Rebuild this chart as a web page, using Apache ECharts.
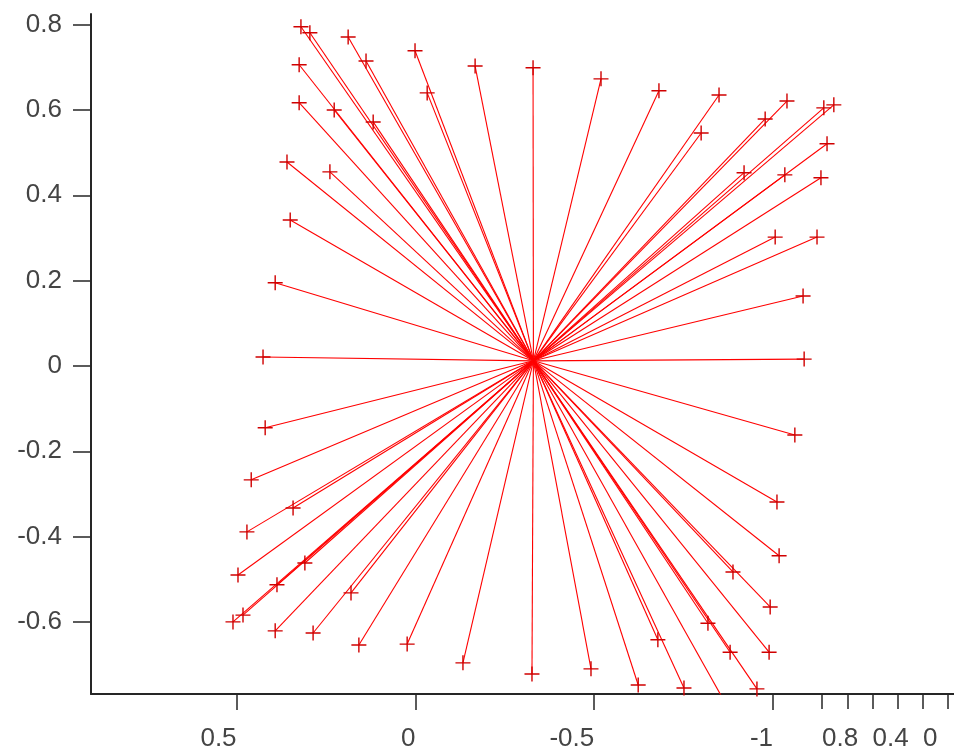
<!DOCTYPE html>
<html>
<head>
<meta charset="utf-8">
<script src="https://cdn.jsdelivr.net/npm/echarts@6/dist/echarts.min.js"></script>
<style>
  html, body { margin: 0; padding: 0; background: #fff; }
  #chart { width: 954px; height: 756px; }
</style>
</head>
<body>
<div id="chart"></div>
<script>
// common start point of all spokes
const center = [-0.33, 0.012];

// spoke end points (x reversed on screen)
const xEnd = [
  0.320, 0.295, 0.188, 0.001, 0.138, 0.325, -0.167, -0.033, 0.325, 0.227, 0.118,
  0.359, 0.239, 0.350, 0.392, 0.426,
  -0.329, -0.519, -0.681, -0.849, -1.039, -1.142, -1.170, -0.978, -0.799, -1.151,
  -0.919, -1.033, -1.134, -1.006, -1.123, -1.084, -1.087,
  0.420, 0.459, 0.342, 0.471, 0.309, 0.496, 0.387, 0.180, 0.482, 0.510, 0.392,
  0.286, 0.158, 0.023, -0.133,
  -0.326, -0.491, -0.623, -0.751, -0.857, -0.955, -0.678, -0.818, -0.880, -0.989,
  -0.992, -0.888, -1.017, -1.011, -1.061
];
const yEnd = [
  0.795, 0.781, 0.771, 0.739, 0.715, 0.706, 0.703, 0.640, 0.617, 0.600, 0.572,
  0.478, 0.455, 0.342, 0.195, 0.021,
  0.699, 0.673, 0.645, 0.635, 0.621, 0.605, 0.612, 0.579, 0.546, 0.521,
  0.453, 0.448, 0.441, 0.302, 0.302, 0.164, 0.016,
  -0.145, -0.267, -0.333, -0.389, -0.462, -0.490, -0.513, -0.532, -0.584, -0.600, -0.621,
  -0.626, -0.654, -0.652, -0.696,
  -0.722, -0.710, -0.748, -0.755, -0.776, -0.757, -0.642, -0.603, -0.671, -0.671,
  -0.565, -0.483, -0.445, -0.319, -0.162
];

const xTicks = [0.5, 0, -0.5, -1];
const yTicks = [-0.6, -0.4, -0.2, 0, 0.2, 0.4, 0.6, 0.8];
const zTicks = [0.8, 0.6, 0.4, 0.2, 0, -0.2];
const zLabels = [0.8, 0.4, 0];

const axisColor = '#262626';
const labelColor = '#444444';
const fontFamily = '"Liberation Sans", Arial, sans-serif';
const plusSymbol = 'path://M6.8,0H8.2V6.8H15V8.2H8.2V15H6.8V8.2H0V6.8H6.8Z';

function fmt(v) {
  return String(+Number(v).toFixed(1));
}

let chart = echarts.init(document.getElementById('chart'));

chart.setOption({
  animation: false,
  backgroundColor: '#fff',
  grid: [
    { left: 91, right: 0, top: 14, bottom: 62 },
    { left: 790, right: 0, top: 14, bottom: 62 }
  ],
  xAxis: [
    {
      type: 'value',
      gridIndex: 0,
      inverse: true,
      min: -1.506,
      max: 0.907,
      axisLine: { show: true, onZero: false, lineStyle: { color: axisColor, width: 2 } },
      axisTick: { show: true, length: 16, customValues: xTicks, lineStyle: { color: axisColor, width: 1.5 } },
      axisLabel: {
        customValues: xTicks, formatter: fmt, align: 'right', margin: 32,
        color: labelColor, fontSize: 26, fontFamily
      },
      splitLine: { show: false }
    },
    {
      type: 'value',
      gridIndex: 1,
      inverse: true,
      min: -0.246,
      max: 1.054,
      axisLine: { show: false, onZero: false },
      axisTick: { show: true, length: 15, customValues: zTicks, lineStyle: { color: axisColor, width: 1.5 } },
      axisLabel: {
        customValues: zLabels, formatter: fmt, align: 'left', margin: 32,
        color: labelColor, fontSize: 26, fontFamily
      },
      splitLine: { show: false }
    }
  ],
  yAxis: [
    {
      type: 'value',
      gridIndex: 0,
      min: -0.769,
      max: 0.825,
      axisLine: { show: true, onZero: false, lineStyle: { color: axisColor, width: 2 } },
      axisTick: { show: true, length: 18, customValues: yTicks, lineStyle: { color: axisColor, width: 1.5 } },
      axisLabel: {
        customValues: yTicks, formatter: fmt, margin: 29,
        color: labelColor, fontSize: 26, fontFamily
      },
      splitLine: { show: false }
    },
    { type: 'value', gridIndex: 1, show: false, min: 0, max: 1 }
  ],
  series: [
    {
      type: 'lines',
      coordinateSystem: 'cartesian2d',
      xAxisIndex: 0,
      yAxisIndex: 0,
      silent: true,
      lineStyle: { color: '#ff0000', width: 1.1, opacity: 1, curveness: 0 },
      data: xEnd.map((x, i) => ({ coords: [center, [x, yEnd[i]]] }))
    },
    {
      type: 'scatter',
      xAxisIndex: 0,
      yAxisIndex: 0,
      silent: true,
      symbol: plusSymbol,
      symbolSize: 15,
      itemStyle: { color: '#d00000', opacity: 1 },
      data: xEnd.map((x, i) => [x, yEnd[i]])
    }
  ]
});

window.addEventListener('resize', () => {
  chart.resize();
});
</script>
</body>
</html>
